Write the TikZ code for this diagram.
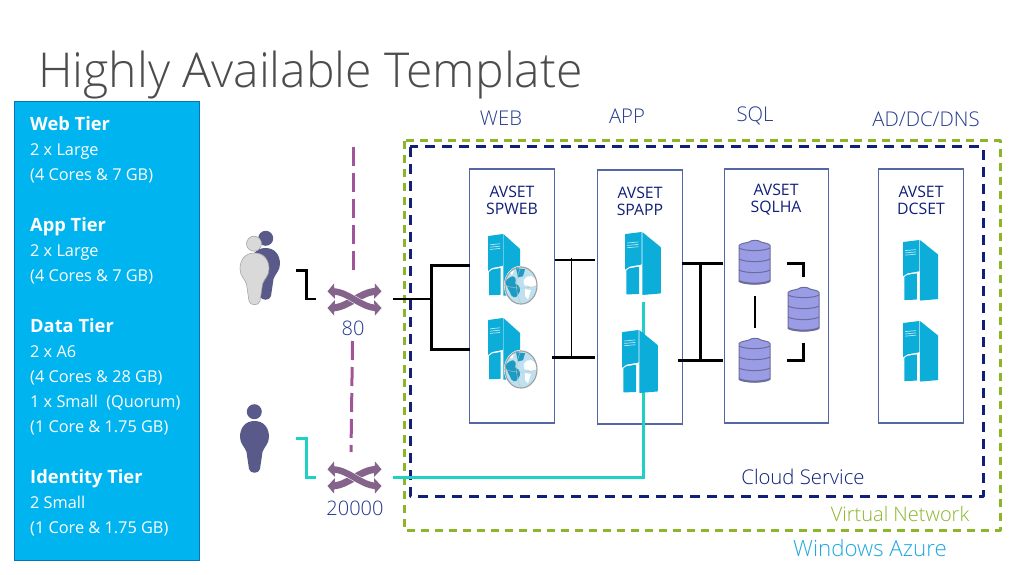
\documentclass[tikz,border=0pt]{standalone}
\usepackage{fontspec}
\setmainfont{Open Sans}
\newfontfamily\lightf{Open Sans Light}
\usetikzlibrary{arrows.meta}
\definecolor{panelblue}{HTML}{00B4F0}
\definecolor{paneledge}{HTML}{0B72B5}
\definecolor{vnetgreen}{HTML}{8CB52A}
\definecolor{navy}{HTML}{101F78}
\definecolor{boxedge}{HTML}{5566A8}
\definecolor{labelblue}{HTML}{253A8E}
\definecolor{plum}{HTML}{A0559A}
\definecolor{swapc}{HTML}{85648C}
\definecolor{teal2}{HTML}{1FD1C4}
\definecolor{srv}{HTML}{0CADD8}
\definecolor{dbfill}{HTML}{9A9DE6}
\definecolor{dbedge}{HTML}{6C6C9C}
\definecolor{userc}{HTML}{5A5A8A}
\definecolor{azure}{HTML}{1FA8E0}
\definecolor{seac}{HTML}{BFE0EE}
\definecolor{landc}{HTML}{1C9CC4}
\tikzset{
  x=1pt,y=-1pt,
  conn/.style={black,line width=2.7pt},
  thinconn/.style={black,line width=1pt},
  cyanconn/.style={teal2,line width=3pt},
  avset/.style={draw=boxedge,line width=1.1pt,fill=white,inner sep=0pt,outer sep=0pt,anchor=north west},
  lbl/.style={text=labelblue,font=\lightf\fontsize{20.3}{22}\selectfont,inner sep=0pt},
  boxlbl/.style={text=navy,font=\fontsize{15.8}{18}\selectfont,align=center,inner sep=0pt},
  tierhead/.style={text=white,anchor=base west,inner sep=0pt,font=\bfseries\fontsize{18.3}{20}\selectfont},
  tierline/.style={text=white,anchor=base west,inner sep=0pt,font=\fontsize{16.3}{18}\selectfont},
  plumdash/.style={plum,line width=3pt,dash pattern=on 19pt off 7pt},
  server/.pic={
    \fill[srv,rounded corners=0.5pt] (0,2)--(14.8,0)--(14.8,31)--(4,33)--(0,36)--cycle;
    \fill[srv,rounded corners=0.5pt] (1.2,36.5)--(4,34.5)--(12.6,33)--(12.6,59)--(1.2,59.5)--cycle;
    \fill[srv,rounded corners=0.5pt] (15.4,0)--(32,14.5)--(32,58.5)--(15.4,60)--cycle;
    \draw[white!70!srv,line width=0.7pt] (2,10.5)--(12,9.5) (2,12.8)--(12,11.8) (2,15)--(12,14);
  },
  globe/.pic={
    \begin{scope}[yscale=1.16]
    \fill[white] (0,0) circle (17);
    \fill[seac] (0,0) circle (16);
    \begin{scope}
      \clip (0,0) circle (16);
      \fill[landc] (-16,-3)..controls (-9,-11) and (-3,-8) .. (-6,-2)..controls (-1,0) and (1,4) .. (-3,8)..controls (-5,12) and (-10,10) .. (-11,6)--cycle;
      \fill[landc] (-5,-15)--(4,-14)--(2,-8)--(-3,-7)--cycle;
      \fill[white] (3,-5)..controls (8,-11) and (14,-8) .. (16,-2)..controls (16,2) and (9,2) .. (7,0)..controls (3,1) and (2,-2) .. (3,-5)--cycle;
      \fill[white] (4,3)--(10,4)--(7,12)--(4,9)--cycle;
      \fill[white] (-12,-12)--(-7,-13)--(-9,-9)--cycle;
    \end{scope}
    \draw[gray!75,line width=1.1pt] (0,0) circle (16);
    \draw[gray!50,line width=0.4pt] (-16,0)..controls (-7,3) and (7,3) .. (16,0) (0,-16)..controls (-6,-6) and (-6,6) .. (0,16);
    \end{scope}
  },
  database/.pic={
    \fill[dbfill,draw=dbedge,line width=1pt] (0,5.5)..controls (2,3) and (8,3) .. (10,2)..controls (13,-0.3) and (19,-0.3) .. (22,2)..controls (24,3) and (30,3) .. (31,5.5)--(31,41)..controls (25,45) and (6,45) .. (0,41)--cycle;
    \draw[dbedge,line width=1pt]
      (0,8)..controls (6,11.5) and (25,11.5) .. (31,8)
      (0,19)..controls (6,22.5) and (25,22.5) .. (31,19)
      (0,30)..controls (6,33.5) and (25,33.5) .. (31,30);
    \draw[dbedge,line width=2pt] (0,41)..controls (6,44.5) and (25,44.5) .. (31,41);
  },
  bodyshape/.pic={
    \path[pic actions] (14.5,0)..controls (24,0) and (29,7) .. (29,16)..controls (29,23) and (24,26) .. (22.5,31)--(20,48)..controls (19,53) and (10,53) .. (9,48)--(6.5,31)..controls (5,26) and (0,23) .. (0,16)..controls (0,7) and (5,0) .. (14.5,0)--cycle;
  },
  swapicon/.pic={
    \draw[swapc,line width=7pt] (5,25)..controls (22,24) and (32,9) .. (49,8.3);
    \draw[white,line width=7.4pt] (14,11)..controls (24,13) and (30,20) .. (40,22.5);
    \draw[swapc,line width=6.4pt] (5,8.3)..controls (22,9) and (32,24) .. (49,25);
    \fill[swapc] (0,8.3)--(6.5,0.5)--(7.5,16)--cycle;
    \fill[swapc] (0,25)--(7.5,17)--(6.5,32.5)--cycle;
    \fill[swapc] (54,8.3)--(47.5,0.5)--(46.5,16)--cycle;
    \fill[swapc] (54,25)--(46.5,17)--(47.5,32.5)--cycle;
  }
}
\begin{document}
\begin{tikzpicture}
\useasboundingbox[fill=white] (0,0) rectangle (1023,575);

\node[anchor=base west,inner sep=0pt,text=black!70,font=\lightf\fontsize{48.1}{56}\selectfont] (title) at (38,88) {Highly Available Template};

% left panel
\node[draw=paneledge,line width=1pt,fill=panelblue,minimum width=185.5pt,minimum height=458.5pt,inner sep=0pt,outer sep=0pt,anchor=north west] (panel) at (14,101.5) {};
\foreach \n/\y/\t in {a/130.5/Web Tier,b/231/App Tier,c/332/Data Tier,d/483/Identity Tier}
  \node[tierhead] (h\n) at (30,\y) {\t};
\foreach \n/\y/\t in {a1/155.5/2 x Large,a2/180.5/(4 Cores \& 7 GB),b1/256.5/2 x Large,b2/281.5/(4 Cores \& 7 GB),c1/357.5/2 x A6,c2/382.5/(4 Cores \& 28 GB),c3/407/1 x Small~~(Quorum),c4/432/(1 Core \& 1.75 GB),d1/508/2 Small,d2/533/(1 Core \& 1.75 GB)}
  \node[tierline] (t\n) at (30,\y) {\t};

% dashed frames
\draw[vnetgreen,line width=3pt,dash pattern=on 8pt off 6pt,line join=round] (404,141) rectangle (1000,530);
\draw[navy,line width=3pt,dash pattern=on 10pt off 7pt,line join=round] (410,147) rectangle (983,496);

% availability sets
\node[avset,minimum width=85pt,minimum height=254pt] (web) at (469.5,169) {};
\node[avset,minimum width=85pt,minimum height=254pt] (app) at (597.5,170) {};
\node[avset,minimum width=104pt,minimum height=254pt] (sql) at (724.5,169) {};
\node[avset,minimum width=85pt,minimum height=254pt] (dc) at (878.5,169) {};

\node[boxlbl] (lweb) at (512,200) {AVSET\\[-1pt]SPWEB};
\node[boxlbl] (lapp) at (640,201) {AVSET\\[-1pt]SPAPP};
\node[boxlbl] (lsql) at (776,200) {AVSET\\[-1pt]SQLHA};
\node[boxlbl] (ldc)  at (921,200) {AVSET\\[-1pt]DCSET};

% column labels
\node[lbl] (cweb) at (501,118) {WEB};
\node[lbl] (capp) at (627,116) {APP};
\node[lbl] (csql) at (755,116) {SQL};
\node[lbl] (cdc)  at (926,119) {AD/DC/DNS};
\node[lbl,text=navy] (cloud) at (803,477) {Cloud Service};
\node[lbl,text=vnetgreen,font=\lightf\fontsize{20}{22}\selectfont] (vnet) at (900,514) {Virtual Network};
\node[lbl,text=azure,font=\lightf\fontsize{22.3}{24}\selectfont] (azurel) at (870,548) {Windows Azure};

% coordinates for connectors
\coordinate (pa1) at (353,147); \coordinate (pa2) at (353,270);
\coordinate (pb1) at (352.5,341); \coordinate (pb2) at (351,452);
\coordinate (u1) at (296,270.5); \coordinate (u1b) at (316,299);
\coordinate (s1) at (393,299); \coordinate (jw) at (431.5,299);
\coordinate (w1) at (470,265.5); \coordinate (w2) at (470,349.5);
\coordinate (wa1a) at (554.5,260); \coordinate (wa1b) at (595,260);
\coordinate (wa2a) at (551.5,357.5); \coordinate (wa2b) at (595,357.5);
\coordinate (wam) at (571.5,257.5); \coordinate (wan) at (571.5,357.5);
\coordinate (as1a) at (682,263.3); \coordinate (as1b) at (722.7,263.3);
\coordinate (as2a) at (678,360.7); \coordinate (as2b) at (722.7,360.7);
\coordinate (asm) at (700.7,263.3); \coordinate (asn) at (700.7,360.7);
\coordinate (qv1) at (755,296); \coordinate (qv2) at (755,328);
\coordinate (qa1) at (787.3,263.3); \coordinate (qa2) at (803.7,277);
\coordinate (qb1) at (803.7,342.7); \coordinate (qb2) at (787.3,360.7);
\coordinate (u2) at (296,438); \coordinate (u2b) at (316,477);
\coordinate (s2) at (393,477); \coordinate (ap) at (643,302);

% purple dashed
\draw[plumdash] (pa1) -- (pa2);
\draw[plumdash] (pb1) -- (pb2);

% black connectors
\draw[conn] (u1) -| (306.5,285) |- (u1b);
\draw[conn] (s1) -- (jw);
\draw[conn] (w1) -| (jw) |- (w2);
\draw[conn] (wa1a) -- (wa1b);
\draw[conn] (wa2a) -- (wa2b);
\draw[thinconn] (wam) -- (wan);
\draw[conn] (as1a) -- (as1b);
\draw[conn] (as2a) -- (as2b);
\draw[conn] (asm) -- (asn);
\draw[conn] (qv1) -- (qv2);
\draw[conn] (qa1) -| (qa2);
\draw[conn] (qb1) |- (qb2);

% cyan connectors
\draw[cyanconn] (u2) -| (306.5,458) |- (u2b);
\draw[cyanconn] (s2) -| (ap);

% servers
\pic[yscale=1.03] at (488,234) {server};
\pic at (521,285.5) {globe};
\pic[yscale=1.03] at (488,318) {server};
\pic at (521,369.5) {globe};
\pic[xscale=1.12,yscale=1.05] at (625,232) {server};
\pic[xscale=1.12,yscale=1.05] at (622,330) {server};
\pic[xscale=1.1,yscale=1.01] at (903,240) {server};
\pic[xscale=1.1,yscale=1.01] at (903,321) {server};

% databases
\pic at (739,240) {database};
\pic at (739,338) {database};
\pic at (788,287) {database};

% swap icons
\pic at (327.5,283) {swapicon};
\pic at (327.5,461) {swapicon};
\node[lbl,font=\lightf\fontsize{20}{22}\selectfont] (p80) at (353,328) {80};
\node[lbl,font=\lightf\fontsize{20}{22}\selectfont] (p20k) at (355,508) {20000};

% people
\fill[userc] (265.7,238.3) circle (7.5);
\pic[fill=userc] at (251,248) {bodyshape};
\fill[black!15,draw=black!35,line width=0.6pt] (254,243.7) circle (7.5);
\pic[fill=black!15,draw=black!35,line width=0.6pt] at (240,253) {bodyshape};
\fill[userc] (254.3,411.7) circle (7.5);
\pic[fill=userc] at (240,421) {bodyshape};
\end{tikzpicture}
\end{document}
